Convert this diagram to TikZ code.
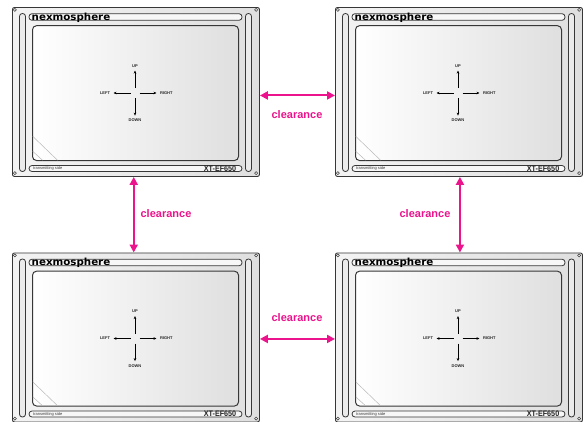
\documentclass[tikz,border=0pt]{standalone}
\usepackage{fontspec}
\setmainfont{Liberation Sans}
\newfontfamily\logofont{DejaVu Sans}
\usetikzlibrary{arrows.meta}
\definecolor{clr}{RGB}{236,20,140}
\definecolor{edgec}{RGB}{55,55,55}
\tikzset{
 framebox/.style={draw=edgec, line width=0.9pt, rounded corners=2pt, left color=gray!9, right color=gray!25, inner sep=0pt, minimum width=247pt, minimum height=169pt, anchor=north west},
 slotbox/.style={draw=edgec, line width=0.8pt, fill=gray!16, rounded corners=2.8pt},
 stripbox/.style={draw=edgec, line width=0.8pt, fill=gray!6, rounded corners=3pt},
 screenbox/.style={draw=edgec, line width=1pt, rounded corners=4pt, left color=white, right color=gray!25},
 hole/.style={draw=edgec, line width=0.6pt, fill=white},
 diag/.style={draw=gray!55, line width=0.5pt},
 dirarrow/.style={-{Stealth[length=3pt,width=2.6pt]}, line width=0.7pt, black, shorten >=3pt},
 dirlabel/.style={font=\bfseries\fontsize{4}{5}\selectfont, text=black!85, inner sep=0.3pt},
 clrarrow/.style={{Triangle[length=8pt,width=8pt]}-{Triangle[length=8pt,width=8pt]}, line width=2pt, clr},
 clrlabel/.style={text=clr, font=\bfseries\fontsize{11}{13}\selectfont, inner sep=0pt},
 panel/.pic={
  \node[framebox] (-frame) at (0,0) {};
  \foreach \hx/\hy in {2.9/2.9, 244.1/2.9, 2.9/166.1, 244.1/166.1}
    \draw[hole] (\hx,\hy) circle (1.5);
  \draw[slotbox] (7.5,6.5) rectangle (13.5,164.5);
  \draw[slotbox] (233.5,6.5) rectangle (239.5,164.5);
  \draw[stripbox] (17,6.7) rectangle (230,13.3);
  \draw[stripbox] (17,158.5) rectangle (230,164.5);
  \path[screenbox] (20.5,18.7) rectangle (226.5,153.5);
  \draw[diag] (20.8,129.4) -- (45.5,153.2);
  \draw[diag] (20.8,144.4) -- (30.5,153.2);
  \node[anchor=base west, inner sep=0.3pt, font=\logofont\bfseries\fontsize{9.8}{10}\selectfont, xscale=1.05] (-logo) at (19.2,13.1) {nexmosphere};
  \node[anchor=base east, inner sep=0.3pt, font=\bfseries\fontsize{8}{9}\selectfont, text=black!85, xscale=0.9] (-model) at (224.7,164.4) {XT-EF650};
  \node[anchor=west, inner sep=0pt, font=\fontsize{4}{5}\selectfont, text=gray!45!black] (-side) at (21,161.6) {transmitting side};
  \node[dirlabel] (-up) at (123,58.7) {UP};
  \node[dirlabel] (-down) at (123,113.5) {DOWN};
  \node[dirlabel, anchor=east] (-left) at (98.5,86) {LEFT};
  \node[dirlabel, anchor=west] (-right) at (147.5,86) {RIGHT};
  \coordinate (-cu) at (123,81);
  \coordinate (-cd) at (123,91);
  \coordinate (-cl) at (118.5,86);
  \coordinate (-cr) at (127.5,86);
  \draw[dirarrow] (-cu) -- (-up);
  \draw[dirarrow] (-cd) -- (-down);
  \draw[dirarrow] (-cl) -- (-left);
  \draw[dirarrow] (-cr) -- (-right);
 }
}
\begin{document}
\begin{tikzpicture}[x=1pt,y=-1pt]
\clip (0,0) rectangle (587,421);
\fill[white] (0,0) rectangle (587,421);
\pic (tl) at (12,7) {panel};
\pic (tr) at (335,7) {panel};
\pic (bl) at (12,252.5) {panel};
\pic (br) at (335,252.5) {panel};
\draw[clrarrow] ([yshift=-3.5pt]tl-frame.east) -- ([yshift=-3.5pt]tr-frame.west);
\draw[clrarrow] ([yshift=-1.5pt]bl-frame.east) -- ([yshift=-1.5pt]br-frame.west);
\draw[clrarrow] ([xshift=-2.2pt]tl-frame.south) -- ([xshift=-2.2pt]bl-frame.north);
\draw[clrarrow] ([xshift=1pt]tr-frame.south) -- ([xshift=1pt]br-frame.north);
\node[clrlabel] (c1) at (297,115) {clearance};
\node[clrlabel] (c2) at (297,318) {clearance};
\node[clrlabel] (c3) at (166,214) {clearance};
\node[clrlabel] (c4) at (425,214) {clearance};
\end{tikzpicture}
\end{document}
